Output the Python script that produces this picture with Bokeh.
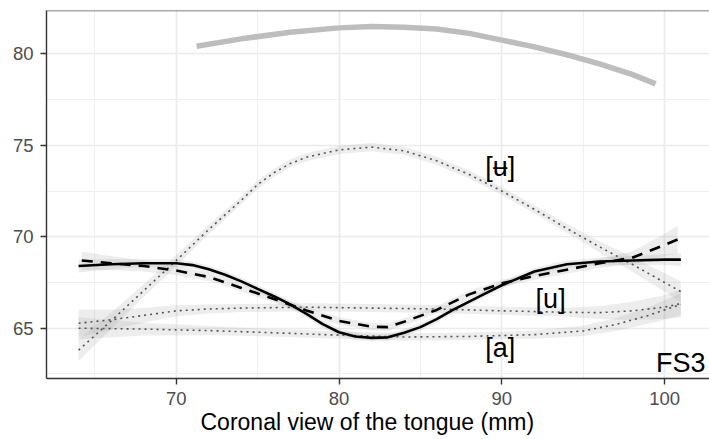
from bokeh.plotting import figure
from bokeh.models import Range1d, SingleIntervalTicker, Label, Span, ColumnDataSource, Title
from bokeh.core.properties import value
from bokeh.embed import file_html
from bokeh.resources import INLINE

# ---- data ----
palate_x = [71.25, 74, 77, 80, 82, 84, 86, 88, 90, 92, 94, 96, 98, 99.45]
palate_y = [80.42, 80.82, 81.18, 81.42, 81.49, 81.46, 81.36, 81.12, 80.75, 80.38, 79.95, 79.45, 78.88, 78.36]

ux_x = [64, 66, 68, 70, 72, 74, 75, 76, 77, 78, 80, 82, 84, 86, 88, 90, 92, 94, 96, 98, 100, 101]
ux_y = [63.8, 65.4, 67.05, 68.7, 70.4, 72.0, 72.85, 73.5, 74.0, 74.35, 74.75, 74.9, 74.7, 74.15, 73.4, 72.5, 71.5, 70.45, 69.45, 68.5, 67.5, 67.0]
ux_se = [0.6, 0.45, 0.35, 0.3, 0.25, 0.22, 0.22, 0.22, 0.22, 0.22, 0.22, 0.22, 0.22, 0.22, 0.22, 0.22, 0.22, 0.25, 0.3, 0.4, 0.5, 0.55]

solid_x = [64, 66, 68, 70, 71, 72, 73, 74, 75, 76, 77, 78, 79, 80, 81, 82, 83, 84, 85, 86, 87, 88, 89, 90, 92, 94, 96, 98, 100, 101]
solid_y = [68.4, 68.5, 68.55, 68.55, 68.45, 68.22, 67.92, 67.56, 67.15, 66.75, 66.3, 65.78, 65.22, 64.78, 64.55, 64.47, 64.5, 64.75, 65.06, 65.5, 66.0, 66.45, 66.9, 67.35, 68.1, 68.5, 68.65, 68.7, 68.75, 68.75]
solid_se = [0.35, 0.28, 0.22, 0.2, 0.2, 0.2, 0.2, 0.2, 0.2, 0.2, 0.2, 0.2, 0.2, 0.2, 0.2, 0.2, 0.2, 0.2, 0.2, 0.2, 0.2, 0.2, 0.2, 0.2, 0.2, 0.2, 0.22, 0.25, 0.3, 0.35]

dash_x = [64.2, 66, 68, 70, 72, 74, 76, 78, 80, 82, 83, 84, 86, 88, 90, 92, 94, 96, 98, 100, 100.8]
dash_y = [68.7, 68.55, 68.4, 68.15, 67.8, 67.2, 66.6, 65.97, 65.4, 65.08, 65.06, 65.35, 66.0, 66.85, 67.45, 67.85, 68.2, 68.55, 68.85, 69.55, 69.85]
dash_se = [0.5, 0.38, 0.3, 0.25, 0.22, 0.2, 0.2, 0.2, 0.2, 0.2, 0.2, 0.2, 0.2, 0.2, 0.2, 0.2, 0.22, 0.25, 0.35, 0.6, 0.75]

u_x = [64, 66, 68, 70, 72, 74, 78, 82, 86, 90, 94, 96, 98, 100, 101]
u_y = [65.27, 65.46, 65.7, 65.95, 66.05, 66.1, 66.15, 66.1, 66.05, 65.95, 65.87, 65.85, 65.95, 66.15, 66.35]
u_se = [0.75, 0.55, 0.4, 0.3, 0.25, 0.22, 0.22, 0.22, 0.22, 0.22, 0.25, 0.35, 0.5, 0.65, 0.75]

a_x = [64, 68, 72, 76, 80, 84, 88, 92, 95, 97, 99, 101]
a_y = [65.0, 64.95, 64.87, 64.75, 64.62, 64.52, 64.55, 64.65, 64.85, 65.2, 65.7, 66.3]
a_se = [0.6, 0.35, 0.25, 0.2, 0.2, 0.2, 0.2, 0.22, 0.28, 0.35, 0.45, 0.6]

labels = ["[\u0289]", "[u]", "[a]"]
label_x = [89.9, 93.0, 89.9]
label_y = [73.8, 66.62, 63.92]
panel_tag = "FS3"
x_title = "Coronal view of the tongue (mm)"

FONT = "Liberation Sans"

p = figure(width=709, height=439, output_backend="svg", toolbar_location=None,
           x_range=Range1d(62.03, 102.76), y_range=Range1d(62.25, 82.37),
           min_border_left=46, min_border_right=0, min_border_top=10, min_border_bottom=61)
p.outline_line_color = None
p.background_fill_color = "white"

# grid
p.xaxis.ticker = SingleIntervalTicker(interval=10, num_minor_ticks=2)
p.yaxis.ticker = SingleIntervalTicker(interval=5, num_minor_ticks=2)
p.xgrid.grid_line_color = "#EBEBEB"
p.ygrid.grid_line_color = "#EBEBEB"
p.xgrid.grid_line_width = 1.6
p.ygrid.grid_line_width = 1.6
p.xgrid.minor_grid_line_color = "#F0F0F0"
p.ygrid.minor_grid_line_color = "#F0F0F0"
p.xgrid.minor_grid_line_width = 1.2
p.ygrid.minor_grid_line_width = 1.2

for ax in (p.xaxis, p.yaxis):
    ax.axis_line_color = "#333333"
    ax.axis_line_width = 1.4
    ax.major_tick_line_color = "#333333"
    ax.major_tick_line_width = 1.4
    ax.major_tick_out = 6
    ax.major_tick_in = 0
    ax.minor_tick_line_color = None
    ax.major_label_text_font = FONT
    ax.major_label_text_font_size = "18.5px"
    ax.major_label_text_color = "#4D4D4D"
p.xaxis.major_label_standoff = 7
p.yaxis.major_label_standoff = 7

# top panel border
p.add_layout(Span(location=82.37, dimension="width", line_color="#555555", line_width=1.6))

RIB = "#999999"
RA = 0.18

def ribbon(xs, ys, se):
    src = ColumnDataSource(dict(x=xs, lo=[y - s for y, s in zip(ys, se)], hi=[y + s for y, s in zip(ys, se)]))
    p.varea(x="x", y1="lo", y2="hi", source=src, fill_color=RIB, fill_alpha=RA)

ribbon(ux_x, ux_y, ux_se)
ribbon(u_x, u_y, u_se)
ribbon(a_x, a_y, a_se)
ribbon(solid_x, solid_y, solid_se)
ribbon(dash_x, dash_y, dash_se)

p.line(palate_x, palate_y, line_color="#BDBDBD", line_width=5.5)

DOT = dict(line_color="#555555", line_width=1.6, line_dash="2 4")
p.line(ux_x, ux_y, **DOT)
p.line(u_x, u_y, **DOT)
p.line(a_x, a_y, **DOT)
p.line(solid_x, solid_y, line_color="black", line_width=2.6)
p.line(dash_x, dash_y, line_color="black", line_width=2.6, line_dash="11 8")

p.text(x=label_x, y=label_y, text=labels, text_font=value(FONT), text_font_size="27px",
       text_align="center", text_baseline="middle", text_color="black")

p.add_layout(Label(x=102.52, y=63.1, text=panel_tag, text_font=FONT, text_font_size="27px",
                   text_align="right", text_baseline="middle", text_color="black"))

p.add_layout(Title(text=x_title, align="left", offset=154, standoff=-1,
                   text_font=FONT, text_font_size="23px", text_font_style="normal",
                   text_color="black"), "below")

open("out.html", "w").write(file_html(p, INLINE))
